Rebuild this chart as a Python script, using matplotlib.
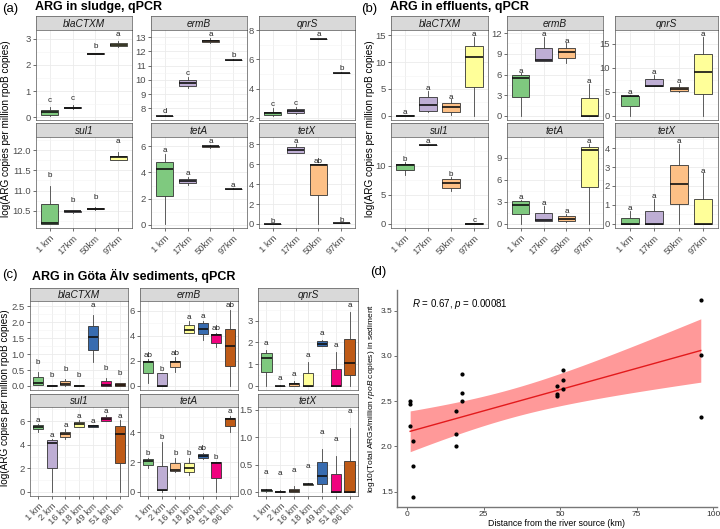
import numpy as np
import matplotlib.pyplot as plt
from matplotlib.ticker import MultipleLocator, AutoMinorLocator

plt.rcParams['font.family'] = ['Liberation Sans', 'DejaVu Sans']
plt.rcParams['mathtext.fontset'] = 'custom'
plt.rcParams['mathtext.it'] = 'Liberation Sans:italic'
plt.rcParams['mathtext.rm'] = 'Liberation Sans'

# ---- data: box stats per site = [whisker low, q1, median, q3, whisker high]
genes = ['blaCTXM', 'ermB', 'qnrS', 'sul1', 'tetA', 'tetX']
wwtp_sites = ['1 km', '17km', '50km', '97km']
sed_sites = ['1 km', '2 km', '16 km', '18 km', '49 km', '51 km', '96 km']

sludge_blaCTXM = [[0.05, 0.10, 0.20, 0.28, 0.38], [0.30, 0.34, 0.37, 0.41, 0.45],
                  [2.41, 2.42, 2.43, 2.44, 2.45], [2.70, 2.71, 2.75, 2.82, 2.90]]
sludge_ermB = [[7.46, 7.47, 7.48, 7.49, 7.50], [9.41, 9.58, 9.78, 9.98, 10.17],
               [12.55, 12.62, 12.73, 12.79, 12.90], [11.39, 11.40, 11.41, 11.42, 11.43]]
sludge_qnrS = [[2.16, 2.21, 2.35, 2.46, 2.69], [2.32, 2.37, 2.50, 2.62, 2.78],
               [7.38, 7.39, 7.40, 7.41, 7.42], [5.08, 5.09, 5.10, 5.11, 5.12]]
sludge_sul1 = [[10.17, 10.17, 10.18, 10.67, 11.12], [10.45, 10.46, 10.48, 10.49, 10.50],
               [10.52, 10.53, 10.55, 10.57, 10.58], [11.75, 11.77, 11.83, 11.87, 11.96]]
sludge_tetA = [[0.05, 2.20, 4.25, 4.83, 5.43], [3.02, 3.18, 3.35, 3.49, 3.67],
               [5.92, 5.94, 6.00, 6.07, 6.10], [2.74, 2.75, 2.76, 2.77, 2.78]]
sludge_tetX = [[0.00, 0.01, 0.02, 0.03, 0.04], [7.10, 7.17, 7.40, 7.70, 8.00],
               [0.00, 2.90, 5.92, 6.00, 6.02], [0.08, 0.09, 0.10, 0.11, 0.12]]
sludge_letters = [['c', 'c', 'b', 'a'], ['d', 'c', 'a', 'b'], ['c', 'c', 'a', 'b'],
                  ['b', 'b', 'b', 'a'], ['a', 'a', 'a', 'a'], ['b', 'a', 'ab', 'b']]

effl_blaCTXM = [[0, 0.02, 0.05, 0.10, 0.20], [0.80, 0.94, 2.00, 3.56, 4.60],
                [0.10, 0.75, 1.69, 2.44, 3.06], [0, 5.44, 10.90, 12.90, 14.60]]
effl_ermB = [[0, 2.76, 5.47, 6.00, 6.16], [8.00, 8.00, 8.05, 9.90, 11.40],
             [7.70, 8.40, 9.30, 9.90, 10.50], [0, 0, 0.05, 2.66, 4.60]]
effl_qnrS = [[0, 2.05, 4.20, 4.25, 4.30], [6.20, 6.20, 6.25, 7.70, 8.60],
             [5.00, 5.30, 5.70, 6.10, 6.70], [0, 4.50, 9.20, 12.90, 16.40]]
effl_sul1 = [[8.50, 9.20, 10.10, 10.30, 10.60], [13.50, 13.55, 13.60, 13.65, 13.70],
             [5.70, 6.20, 7.06, 7.65, 8.10], [0, 0.02, 0.05, 0.08, 0.10]]
effl_tetA = [[0, 1.38, 2.63, 3.10, 3.20], [0.46, 0.46, 0.47, 1.52, 2.44],
             [0.20, 0.37, 0.69, 1.06, 1.30], [0, 5.00, 10.05, 10.50, 10.80]]
effl_tetX = [[0, 0, 0.01, 0.33, 0.68], [0, 0, 0.01, 0.68, 1.32],
             [0, 1.04, 2.10, 3.10, 4.20], [0, 0, 0.01, 1.32, 2.66]]
effl_letters = [['a'] * 4, ['a'] * 4, ['a'] * 4, ['b', 'a', 'b', 'c'], ['a'] * 4, ['a'] * 4]

sed_blaCTXM = [[0.03, 0.04, 0.08, 0.27, 0.45], [0, 0, 0.01, 0.02, 0.03], [0, 0.03, 0.07, 0.16, 0.21],
               [0, 0, 0.01, 0.02, 0.03], [0.74, 1.13, 1.53, 1.88, 2.22], [0, 0.01, 0.04, 0.16, 0.24],
               [0, 0.01, 0.04, 0.08, 0.10]]
sed_ermB = [[0.26, 1.04, 1.88, 1.98, 2.17], [0, 0, 0.02, 1.04, 1.04], [1.12, 1.50, 1.90, 1.98, 2.30],
            [4.26, 4.26, 4.46, 4.90, 5.17], [3.70, 4.13, 4.52, 4.99, 5.22], [3.08, 3.47, 4.05, 4.13, 4.26],
            [0, 1.57, 3.16, 4.57, 6.10]]
sed_qnrS = [[0, 0.65, 1.30, 1.52, 1.64], [0, 0, 0.01, 0.02, 0.03], [0, 0, 0.07, 0.12, 0.23],
            [0, 0, 0.01, 0.58, 1.10], [1.83, 1.83, 1.94, 2.05, 2.10], [0, 0, 0.01, 0.77, 1.56],
            [0, 0.50, 1.06, 2.17, 3.38]]
sed_sul1 = [[5.10, 5.33, 5.52, 5.67, 5.80], [0, 2.04, 4.19, 4.45, 4.53], [4.53, 4.67, 4.90, 5.10, 5.30],
            [5.47, 5.52, 5.75, 5.90, 6.10], [5.50, 5.52, 5.60, 5.67, 5.70], [6.03, 6.03, 6.23, 6.37, 6.50],
            [0, 2.46, 4.90, 5.58, 6.10]]
sed_tetA = [[1.60, 1.82, 2.09, 2.20, 2.30], [0, 0.11, 0.12, 1.76, 3.36], [1.36, 1.43, 1.49, 1.91, 2.30],
            [1.16, 1.32, 1.60, 1.91, 2.30], [2.20, 2.26, 2.40, 2.53, 2.57], [0, 0.92, 1.91, 1.98, 2.02],
            [4.02, 4.40, 4.88, 4.95, 5.05]]
sed_tetX = [[0, 0.02, 0.03, 0.04, 0.056], [0, 0, 0.005, 0.01, 0.03], [0, 0, 0.02, 0.06, 0.10],
            [0.12, 0.13, 0.14, 0.15, 0.16], [0, 0.14, 0.30, 0.54, 0.79], [0, 0, 0.003, 0.32, 0.66],
            [0, 0, 0.004, 0.57, 1.16]]
sed_letters = [['b', 'b', 'b', 'b', 'a', 'b', 'b'], ['ab', 'b', 'ab', 'a', 'a', 'ab', 'ab'], ['a'] * 7,
               ['a'] * 7, ['b', 'b', 'b', 'b', 'ab', 'b', 'a'], ['a'] * 7]

# y tick spacing for each facet
sludge_steps = [1, 1, 2, 0.5, 2, 2]
effl_steps = [5, 3, 5, 5, 3, 1]
sed_steps = [0.5, 2, 1, 2, 2, 0.5]

# panel (d): total ARGs vs distance
dist_km = [1, 1, 1, 2, 2, 2, 16, 16, 16, 18, 18, 18, 49, 49, 49, 51, 51, 51, 96, 96, 96]
total_args = [2.50, 2.47, 2.23, 2.06, 1.78, 1.44, 2.39, 2.14, 2.01, 2.80, 2.59, 2.50,
              2.67, 2.58, 2.56, 2.84, 2.73, 2.64, 3.62, 3.01, 2.33]

ACCENT = ['#7FC97F', '#BEAED4', '#FDC086', '#FFFF99', '#386CB0', '#F0027F', '#BF5B17']

W, H = 720, 529
fig = plt.figure(figsize=(7.2, 5.29), dpi=100)


def px_axes(x0, y0, x1, y1):
    return fig.add_axes([x0 / W, 1 - y1 / H, (x1 - x0) / W, (y1 - y0) / H])


def facet(box, strip_h, gene, stats, letters, sites, step, pad_abs, pad_frac, show_x):
    x0, y0, x1, y1 = box
    st = px_axes(x0, y0 - strip_h, x1, y0)
    st.set_facecolor('#D9D9D9')
    st.set_xticks([]); st.set_yticks([])
    for s in st.spines.values():
        s.set_color('#555555'); s.set_linewidth(0.5)
    st.text(0.5, 0.45, gene, style='italic', fontsize=7.3, color='#1A1A1A',
            ha='center', va='center', transform=st.transAxes)

    ax = px_axes(x0, y0, x1, y1)
    n = len(sites)
    pos = np.arange(1, n + 1)
    bstats = [dict(whislo=s[0], q1=s[1], med=s[2], q3=s[3], whishi=s[4], label=lab)
              for s, lab in zip(stats, sites)]
    bp = ax.bxp(bstats, positions=pos, widths=0.75, patch_artist=True, showfliers=False,
                showcaps=False, manage_ticks=False,
                boxprops=dict(edgecolor='#333333', linewidth=0.6),
                whiskerprops=dict(color='#444444', linewidth=0.6),
                medianprops=dict(color='#111111', linewidth=1.2))
    for patch, c in zip(bp['boxes'], ACCENT):
        patch.set_facecolor(c)
    lo = min(s[0] for s in stats)
    hi = max(s[4] for s in stats)
    pad = pad_abs + pad_frac * (hi - lo)
    for p, s, let in zip(pos, stats, letters):
        ax.text(p, s[4] + pad, let, ha='center', va='center', fontsize=5.8, color='#222222')
    top = hi + pad
    r = top - lo
    ax.set_ylim(lo - 0.05 * r, top + 0.06 * r)
    ax.set_xlim(0.4, n + 0.6)
    ax.yaxis.set_major_locator(MultipleLocator(step))
    ax.yaxis.set_minor_locator(AutoMinorLocator(2))
    ax.set_xticks(pos)
    ax.grid(True, which='major', color='#EBEBEB', linewidth=0.6)
    ax.grid(True, which='minor', axis='y', color='#F4F4F4', linewidth=0.4)
    ax.set_axisbelow(True)
    for s in ax.spines.values():
        s.set_color('#555555'); s.set_linewidth(0.5)
    ax.tick_params(axis='y', which='major', length=2.5, width=0.5, color='#333333',
                   labelsize=6.8, labelcolor='#4D4D4D', pad=1.2)
    ax.tick_params(axis='y', which='minor', length=0)
    if show_x:
        ax.set_xticklabels(sites, rotation=45, ha='right', rotation_mode='anchor')
        ax.tick_params(axis='x', length=2.5, width=0.5, color='#333333',
                       labelsize=6.8, labelcolor='#4D4D4D', pad=1.5)
    else:
        ax.tick_params(axis='x', length=0, labelbottom=False)
    return ax


def facet_group(cols, rows, strip_h, stats_list, letters_list, sites, steps, pad_abs, pad_frac):
    for i, gene in enumerate(genes):
        r, c = divmod(i, 3)
        box = (cols[c][0], rows[r][0], cols[c][1], rows[r][1])
        facet(box, strip_h, gene, stats_list[i], letters_list[i], sites, steps[i],
              pad_abs, pad_frac, show_x=(r == 1))


ylab = 'log(ARG copies per million rpoB copies)'

# (a) sludge
facet_group([(36, 132), (151, 247), (259, 355)], [(30, 120), (137, 228)], 14,
            [sludge_blaCTXM, sludge_ermB, sludge_qnrS, sludge_sul1, sludge_tetA, sludge_tetX],
            sludge_letters, wwtp_sites, sludge_steps, 0.25, 0.0)
fig.text(2 / W, 1 - 9 / H, '(a)', fontsize=9.5, va='center')
fig.text(35 / W, 1 - 7 / H, 'ARG in sludge, qPCR', fontsize=9, weight='bold', va='center')
fig.text(6 / W, 1 - 129 / H, ylab, rotation=90, fontsize=7.2, ha='center', va='center')

# (b) effluents
facet_group([(391, 488), (507, 603), (615, 718)], [(30, 120), (137, 228)], 14,
            [effl_blaCTXM, effl_ermB, effl_qnrS, effl_sul1, effl_tetA, effl_tetX],
            effl_letters, wwtp_sites, effl_steps, 0.0, 0.03)
fig.text(361 / W, 1 - 9 / H, '(b)', fontsize=9.5, va='center')
fig.text(390 / W, 1 - 7 / H, 'ARG in effluents, qPCR', fontsize=9, weight='bold', va='center')
fig.text(370 / W, 1 - 129 / H, ylab, rotation=90, fontsize=7.2, ha='center', va='center')

# (c) sediments
facet_group([(30, 128), (140, 238), (258, 358)], [(301, 390), (407, 496)], 13,
            [sed_blaCTXM, sed_ermB, sed_qnrS, sed_sul1, sed_tetA, sed_tetX],
            sed_letters, sed_sites, sed_steps, 0.3, 0.0)
fig.text(2 / W, 1 - 275 / H, '(c)', fontsize=9.5, va='center')
fig.text(32 / W, 1 - 276 / H, 'ARG in Göta Älv sediments, qPCR', fontsize=9, weight='bold', va='center')
fig.text(5 / W, 1 - 398 / H, ylab, rotation=90, fontsize=7.2, ha='center', va='center')

# (d) regression of total ARGs against distance
ax = px_axes(397, 290, 717, 507)
x = np.array(dist_km, dtype=float)
y = np.array(total_args)
slope, intercept = np.polyfit(x, y, 1)
n = len(x)
resid = y - (slope * x + intercept)
s = np.sqrt(np.sum(resid ** 2) / (n - 2))
sxx = np.sum((x - x.mean()) ** 2)
xs = np.linspace(x.min(), x.max(), 100)
fit = slope * xs + intercept
half = 2.093 * s * np.sqrt(1 / n + (xs - x.mean()) ** 2 / sxx)
ax.fill_between(xs, fit - half, fit + half, color='#FF0000', alpha=0.4, linewidth=0)
ax.plot(xs, fit, color='#E31A1C', linewidth=1.0)
ax.scatter(x, y, s=4, color='black', zorder=3)
ax.set_xticks([0, 25, 50, 75, 100])
ax.set_yticks([1.5, 2.0, 2.5, 3.0, 3.5])
ax.set_xlim(-3.3, 101.3)
for side in ['top', 'right']:
    ax.spines[side].set_visible(False)
for side in ['left', 'bottom']:
    ax.spines[side].set_color('#777777'); ax.spines[side].set_linewidth(1.0)
ax.tick_params(length=2, width=0.6, color='#555555', labelsize=6, labelcolor='#333333', pad=1)
ax.set_xlabel('Distance from the river source (km)', fontsize=6.3, labelpad=0.5)
ax.set_ylabel(r'log10(Total ARGs/million $\it{rpoB}$ copies) in sediment', fontsize=6, labelpad=3)
ax.text(0.046, 0.936, r'$\it{R}$ = 0.67, $\it{p}$ = 0.00081', fontsize=7, transform=ax.transAxes,
        va='center')
fig.text(370 / W, 1 - 272 / H, '(d)', fontsize=9.5, va='center')

fig.savefig('out.png', dpi=100)
